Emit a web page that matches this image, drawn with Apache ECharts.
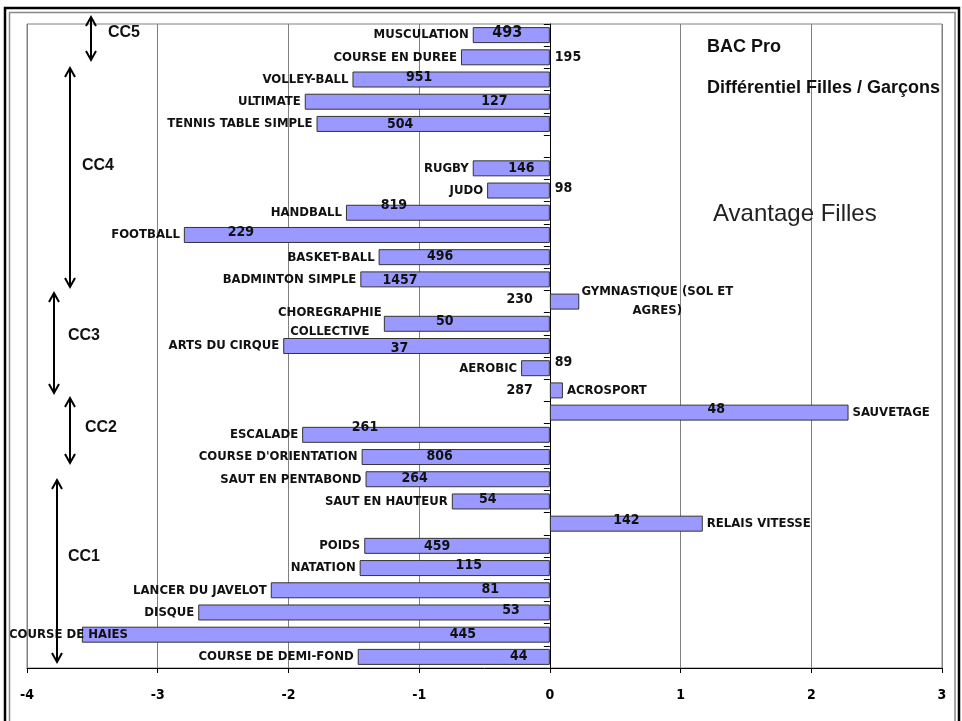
<!DOCTYPE html>
<html><head><meta charset="utf-8">
<script src="https://cdn.jsdelivr.net/npm/echarts@6/dist/echarts.min.js"></script>
<style>html,body{margin:0;padding:0;background:#fff}#c{width:962px;height:721px}</style>
</head><body><div id="c"></div>
<script>
// ---- data ----
const categories = ['MUSCULATION','COURSE EN DUREE','VOLLEY-BALL','ULTIMATE','TENNIS TABLE SIMPLE','','RUGBY','JUDO','HANDBALL','FOOTBALL','BASKET-BALL','BADMINTON SIMPLE','GYMNASTIQUE (SOL ET\nAGRES)','CHOREGRAPHIE\nCOLLECTIVE','ARTS DU CIRQUE','AEROBIC','ACROSPORT','SAUVETAGE','ESCALADE',"COURSE D'ORIENTATION",'SAUT EN PENTABOND','SAUT EN HAUTEUR','RELAIS VITESSE','POIDS','NATATION','LANCER DU JAVELOT','DISQUE','COURSE DE HAIES','COURSE DE DEMI-FOND'];
const differentiel = [-0.59,-0.68,-1.51,-1.875,-1.785,null,-0.59,-0.48,-1.56,-2.80,-1.31,-1.45,0.225,-1.27,-2.04,-0.22,0.10,2.285,-1.895,-1.44,-1.41,-0.75,1.17,-1.42,-1.455,-2.135,-2.69,-3.58,-1.47];
const effectifs = [493,195,951,127,504,null,146,98,819,229,496,1457,230,50,37,89,287,48,261,806,264,54,142,459,115,81,53,445,44];
const xTicks = [-4,-3,-2,-1,0,1,2,3];
const groups = ['CC5','CC4','CC3','CC2','CC1'];

// ---- label styling (placement of the count labels, copied from the reference layout) ----
const countPos = ['inside','right','inside','inside','inside',null,'inside','right','inside','inside','inside','inside','left','inside','inside','right','left','inside','inside','inside','inside','inside','inside','inside','inside','inside','inside','inside','inside'];
const countOffset = [[-4,-2],[0,0],[-32,-2],[67,0],[-33,0],null,[10,0],[0,-2],[-54,-7],[-126,-3],[-24,-1],[-55,1],[-12,-2],[-22,-2],[-17,2],[0,-6],[-12,0],[17,-3],[-61,-7],[-16,-1],[-43,-1],[-13,-2],[0,-3],[-20,0],[14,-3],[80,-1],[137,-2],[147,0],[65,-1]];

const NARROW = "'DejaVu Sans Condensed','DejaVu Sans',sans-serif";
const SANS = "'Liberation Sans',Arial,sans-serif";

const chart = echarts.init(document.getElementById('c'));

const countData = differentiel.map((v, i) => v == null ? null : {
  value: v,
  label: {
    show: true,
    formatter: String(effectifs[i]),
    position: countPos[i],
    offset: countOffset[i],
    fontSize: i === 0 ? 16 : 14
  }
});

const nameData = differentiel.map((v, i) => {
  if (v == null) return null;
  const lab = { position: v < 0 ? 'left' : 'right' };
  if (categories[i].indexOf('GYMNASTIQUE') === 0) { lab.align = 'center'; lab.offset = [74, 0]; }
  if (categories[i].indexOf('CHOREGRAPHIE') === 0) { lab.align = 'center'; lab.offset = [-50, -2]; }
  if (categories[i] === 'COURSE DE HAIES') { lab.offset = [50, 0]; }
  return { value: v, label: lab };
});

function arrow(x, y1, y2) {
  const s = { stroke: '#000', lineWidth: 2, fill: null };
  return [
    { type: 'line', shape: { x1: x, y1: y1, x2: x, y2: y2 }, style: s, z: 50 },
    { type: 'polyline', shape: { points: [[x - 5, y1 + 9], [x, y1], [x + 5, y1 + 9]] }, style: s, z: 50 },
    { type: 'polyline', shape: { points: [[x - 5, y2 - 9], [x, y2], [x + 5, y2 - 9]] }, style: s, z: 50 }
  ];
}
function txt(x, y, text, size, weight, fill) {
  return { type: 'text', x: x, y: y, z: 50, style: { text: text, fontSize: size, fontWeight: weight, fontFamily: SANS, fill: fill || '#000', verticalAlign: 'middle', align: 'left' } };
}

const arrowSpec = [[91, 17, 60], [70, 68, 287], [54, 293, 393], [70, 398, 463], [57, 480, 662]];
const ccPos = [[108, 33], [82, 166], [68, 336], [85, 428], [68, 557]];

let graphics = [
  { type: 'rect', shape: { x: 5, y: 8, width: 954, height: 760 }, style: { fill: null, stroke: '#000', lineWidth: 2.5 }, z: 40 },
  { type: 'rect', shape: { x: 9.5, y: 12.5, width: 945.5, height: 760 }, style: { fill: null, stroke: '#888', lineWidth: 1.5 }, z: 40 },
  txt(707, 47, 'BAC Pro', 18, 'bold', '#111'),
  txt(707, 88, 'Différentiel Filles / Garçons', 18, 'bold', '#111'),
  txt(713, 214, 'Avantage Filles', 24, 'normal', '#222')
];
arrowSpec.forEach(a => { graphics = graphics.concat(arrow(a[0], a[1], a[2])); });
groups.forEach((g, i) => graphics.push(txt(ccPos[i][0], ccPos[i][1], g, 16, 'bold', '#111')));

chart.setOption({
  animation: false,
  backgroundColor: '#fff',
  grid: { left: 27, right: 20, top: 24, bottom: 53, show: true, borderColor: '#808080', borderWidth: 1, containLabel: false },
  xAxis: {
    type: 'value', min: xTicks[0], max: xTicks[xTicks.length - 1], interval: 1,
    axisLine: { show: true, lineStyle: { color: '#000', width: 1 } },
    axisTick: { show: true, length: 5, lineStyle: { color: '#000' } },
    axisLabel: { color: '#000', fontWeight: 'bold', fontSize: 14, fontFamily: NARROW, margin: 20 },
    splitLine: { show: true, lineStyle: { color: '#808080', width: 1 } }
  },
  yAxis: {
    type: 'category', inverse: true, data: categories,
    axisLine: { show: true, onZero: true, lineStyle: { color: '#000', width: 1 } },
    axisTick: { show: true, length: 6, lineStyle: { color: '#000' } },
    axisLabel: { show: false },
    splitLine: { show: false }
  },
  series: [
    {
      type: 'bar', name: 'effectifs', data: countData, barCategoryGap: '28%', barGap: '-100%',
      itemStyle: { color: '#9999ff', borderColor: '#333', borderWidth: 1 },
      label: { show: true, color: '#111', fontWeight: 'bold', fontFamily: NARROW, fontSize: 14 },
      z: 2
    },
    {
      type: 'bar', name: 'activites', data: nameData, barCategoryGap: '28%', barGap: '-100%',
      itemStyle: { color: 'rgba(0,0,0,0)', borderWidth: 0 },
      label: { show: true, formatter: p => categories[p.dataIndex], color: '#111', fontWeight: 'bold', fontFamily: NARROW, fontSize: 13, distance: 4, lineHeight: 19 },
      silent: true, z: 3
    }
  ],
  graphic: graphics
});
</script></body></html>
